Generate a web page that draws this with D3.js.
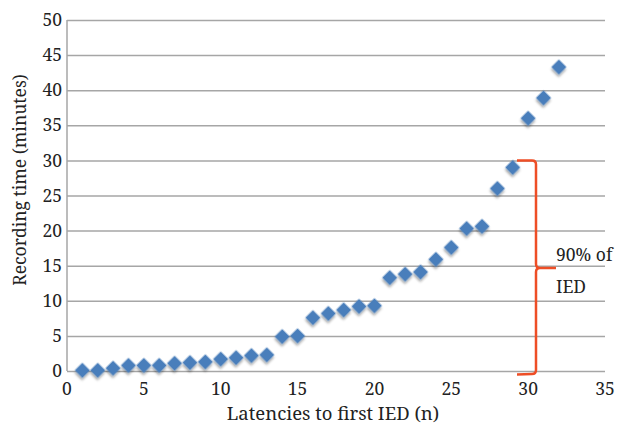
<!DOCTYPE html>
<html>
<head>
<meta charset="utf-8">
<script src="https://cdn.jsdelivr.net/npm/d3@7"></script>
<style>
  body { margin: 0; background: #fff; }
  .grid line { stroke: #a6a6a6; stroke-width: 1.5; }
  .grid path { stroke: none; }
</style>
</head>
<body>
<svg width="617" height="427"></svg>
<script>
// latency index and recording time (minutes)
const latency = d3.range(1, 33);
const minutes = [0.1, 0.1, 0.4, 0.8, 0.8, 0.8, 1.1, 1.2, 1.3, 1.7,
  1.9, 2.2, 2.3, 4.9, 5.0, 7.6, 8.2, 8.7, 9.2, 9.3,
  13.3, 13.8, 14.1, 15.9, 17.6, 20.3, 20.6, 26.0, 29.0, 36.0,
  38.9, 43.3];
const xTicks = [0, 5, 10, 15, 20, 25, 30, 35];
const yTicks = [0, 5, 10, 15, 20, 25, 30, 35, 40, 45, 50];
const braceRange = [0, 30];
const braceLabel = ['90% of', 'IED'];

const svg = d3.select('svg')
  .attr('font-family', "'Noto Serif', 'Liberation Serif', serif")
  .attr('fill', '#222');
const plotL = 67, plotR = 605, plotT = 20, plotB = 371;
const fontSize = 17.5;

const x = d3.scaleLinear().domain([0, 35]).range([plotL, plotR]);
const y = d3.scaleLinear().domain([0, 50]).range([plotB, plotT]);

// horizontal grid
svg.append('g')
  .attr('class', 'grid')
  .attr('transform', `translate(${plotL},0)`)
  .call(d3.axisLeft(y).tickValues(yTicks).tickSize(-(plotR - plotL)).tickFormat(''));

// left axis line
svg.append('line')
  .attr('x1', plotL).attr('x2', plotL)
  .attr('y1', plotT).attr('y2', plotB)
  .attr('stroke', '#a6a6a6').attr('stroke-width', 1.5);

// y tick labels
svg.append('g').selectAll('text')
  .data(yTicks).enter().append('text')
  .attr('x', plotL - 5)
  .attr('y', (d) => y(d))
  .attr('dy', '0.35em')
  .attr('text-anchor', 'end')
  .attr('font-size', fontSize)
  .text((d) => d);

// x tick labels
svg.append('g').selectAll('text')
  .data(xTicks).enter().append('text')
  .attr('x', (d) => x(d))
  .attr('y', plotB + 24)
  .attr('text-anchor', 'middle')
  .attr('font-size', fontSize)
  .text((d) => d);

// shadow filter for markers
const defs = svg.append('defs');
const f = defs.append('filter').attr('id', 'shadow')
  .attr('x', '-50%').attr('y', '-50%').attr('width', '200%').attr('height', '200%');
f.append('feDropShadow').attr('dx', 1.5).attr('dy', 2).attr('stdDeviation', 1.3)
  .attr('flood-color', '#000').attr('flood-opacity', 0.35);

svg.append('g').selectAll('path')
  .data(latency).enter().append('path')
  .attr('transform', (d, i) => `translate(${x(d)},${y(minutes[i])}) rotate(45)`)
  .attr('d', d3.symbol().type(d3.symbolSquare).size(115))
  .attr('fill', '#4a7ebb')
  .attr('filter', 'url(#shadow)');

// red brace
const bx = 536, tipX = 556, armX = 517;
const yt = y(braceRange[1]), yb = y(braceRange[0]) + 3, ym = 268;
const brace = d3.path();
brace.moveTo(armX, yt);
brace.lineTo(bx - 4, yt);
brace.quadraticCurveTo(bx, yt, bx, yt + 4);
brace.lineTo(bx, ym - 4);
brace.quadraticCurveTo(bx, ym, bx + 4, ym);
brace.lineTo(tipX, ym);
brace.moveTo(bx + 4, ym);
brace.quadraticCurveTo(bx, ym, bx, ym + 4);
brace.lineTo(bx, yb - 4);
brace.quadraticCurveTo(bx, yb, bx - 4, yb);
brace.lineTo(armX, yb + 0.5);
svg.append('path')
  .attr('d', brace.toString())
  .attr('fill', 'none')
  .attr('stroke', '#ee4e26')
  .attr('stroke-width', 2.5);

svg.append('g').selectAll('text')
  .data(braceLabel).enter().append('text')
  .attr('x', 556)
  .attr('y', (d, i) => 261 + i * 32)
  .attr('font-size', fontSize)
  .text((d) => d);

// axis titles
svg.append('text')
  .attr('transform', 'translate(26,180) rotate(-90)')
  .attr('text-anchor', 'middle')
  .attr('font-size', 17.5)
  .text('Recording time (minutes)');

svg.append('text')
  .attr('x', 333)
  .attr('y', 420)
  .attr('text-anchor', 'middle')
  .attr('font-size', 18.5)
  .text('Latencies to first IED (n)');
</script>
</body>
</html>
